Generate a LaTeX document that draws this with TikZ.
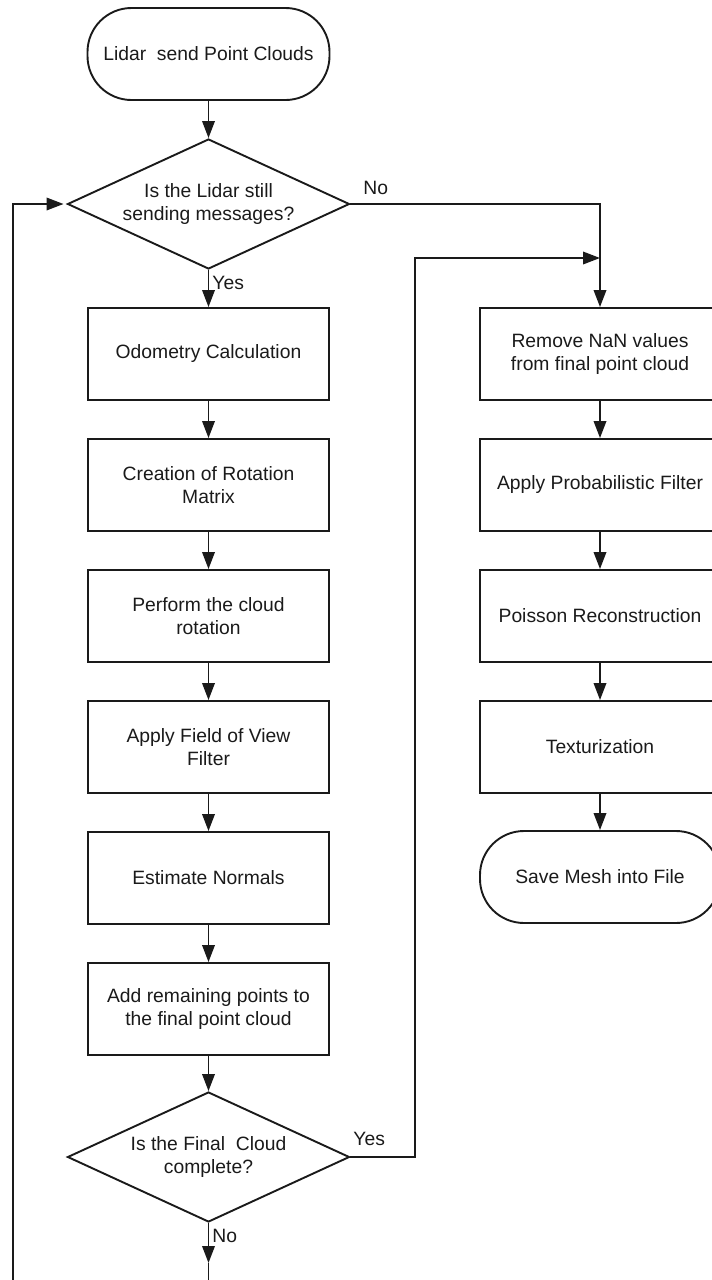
\documentclass[tikz,border=0pt]{standalone}
\usepackage{fontspec}
\setmainfont{Liberation Sans}
\usepackage{tikz}
\usetikzlibrary{positioning, arrows.meta, shapes.geometric}
\definecolor{cInk}{HTML}{1A1A1A}
\newcommand{\flowfont}{\fontsize{19.3}{23}\selectfont}
\tikzset{
  procBox/.style={draw=cInk, line width=1.9pt, minimum width=241pt, minimum height=92pt,
                  inner sep=0pt, align=center, text=cInk, font=\flowfont},
  termBox/.style={procBox, rounded corners=44pt, minimum width=242pt},
  decBox/.style={draw=cInk, line width=1.9pt, diamond, aspect=2.17, minimum width=282pt,
                 minimum height=130pt, inner sep=0pt, align=center, text=cInk, font=\flowfont},
  flowArrow/.style={-{Triangle[length=17pt, width=12.5pt]}, line width=1.9pt, draw=cInk},
  flowLine/.style={line width=1.9pt, draw=cInk},
  flowLabel/.style={font=\flowfont, text=cInk, inner sep=2pt},
}

\begin{document}
\begin{tikzpicture}[x=1pt, y=-1pt]
  \useasboundingbox (0,0) rectangle (712,1280);
  \clip (0,0) rectangle (712,1280);

  % left column
  \node[termBox] (start) at (208.5, 54) {Lidar\ \ send Point Clouds};
  \node[decBox] (dec1) at (208.5, 204) {Is the Lidar still\\sending messages?};
  \node[procBox] (odo) at (208.5, 354) {Odometry Calculation};
  \node[procBox] (rotmat) at (208.5, 485) {Creation of Rotation\\Matrix};
  \node[procBox] (rotate) at (208.5, 616) {Perform the cloud\\rotation};
  \node[procBox] (fov) at (208.5, 747) {Apply Field of View\\Filter};
  \node[procBox] (normals) at (208.5, 878) {Estimate Normals};
  \node[procBox] (addpts) at (208.5, 1009) {Add remaining points to\\the final point cloud};
  \node[decBox] (dec2) at (208.5, 1157) {Is the Final\ \ Cloud\\complete?};

  % right column
  \node[procBox, minimum width=240pt] (nan) at (600, 354) {Remove NaN values\\from final point cloud};
  \node[procBox, minimum width=240pt] (prob) at (600, 485) {Apply Probabilistic Filter};
  \node[procBox, minimum width=240pt] (poisson) at (600, 616) {Poisson Reconstruction};
  \node[procBox, minimum width=240pt] (texture) at (600, 747) {Texturization};
  \node[termBox, minimum width=240pt] (save) at (600, 877) {Save Mesh into File};

  \coordinate (bend) at (415, 258);
  \coordinate (joint) at (600, 258);
  \coordinate (loopfoot) at (13, 1280);
  \coordinate (noTip) at (208.5, 1263);
  \coordinate (noFoot) at (208.5, 1280);

  % connectors
  \draw[flowArrow] (start) -- (dec1);
  \draw[flowArrow] (dec1) -- node[flowLabel, anchor=west, pos=0.36, xshift=1pt] {Yes} (odo);
  \draw[flowArrow] (odo) -- (rotmat);
  \draw[flowArrow] (rotmat) -- (rotate);
  \draw[flowArrow] (rotate) -- (fov);
  \draw[flowArrow] (fov) -- (normals);
  \draw[flowArrow] (normals) -- (addpts);
  \draw[flowArrow] (addpts) -- (dec2);
  \draw[flowArrow] (dec2) -- node[flowLabel, anchor=west, pos=0.32, xshift=1pt] {No} (noTip);
  \draw[flowLine] (noTip) -- (noFoot);
  \draw[flowArrow, shorten >=3pt] (loopfoot) |- (dec1.west);

  \draw[flowArrow] (dec1.east) node[flowLabel, anchor=south west, xshift=10pt, yshift=6pt] {No} -| (nan.north);
  \draw[flowArrow] (dec2.east) node[flowLabel, anchor=south west, yshift=8pt] {Yes} -| (bend) -- (joint);

  \draw[flowArrow] (nan) -- (prob);
  \draw[flowArrow] (prob) -- (poisson);
  \draw[flowArrow] (poisson) -- (texture);
  \draw[flowArrow] (texture) -- (save);
\end{tikzpicture}
\end{document}
